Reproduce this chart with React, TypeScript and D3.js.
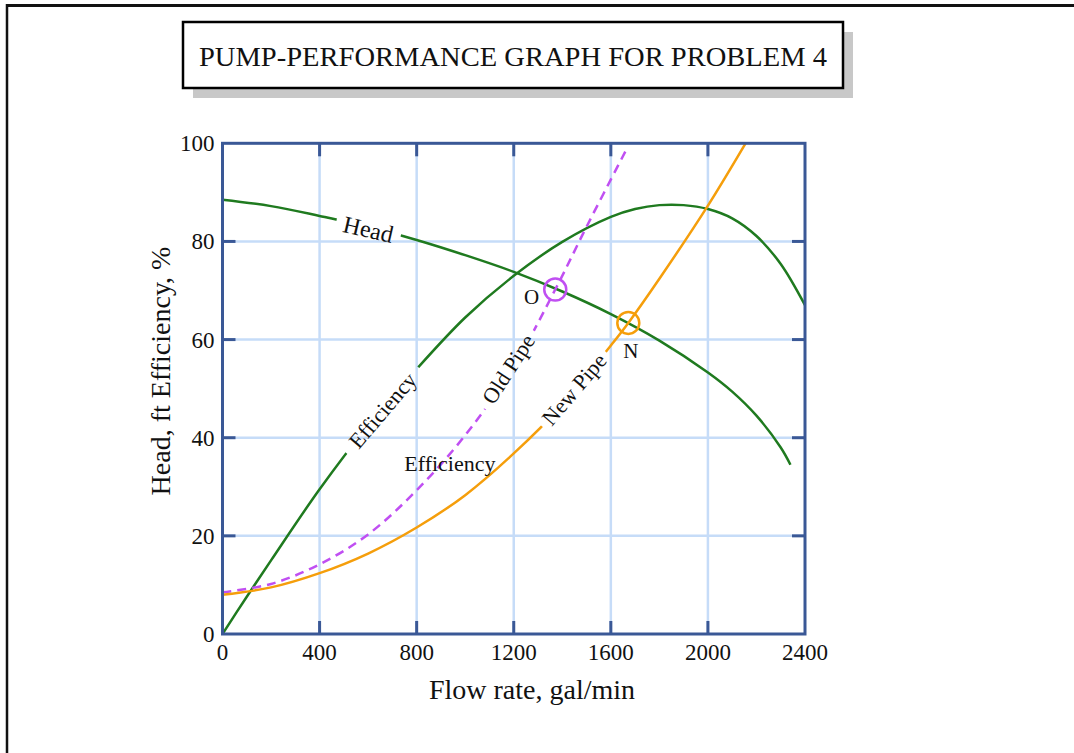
import React from 'react';
import * as d3 from 'd3';

// ---------- data ----------
const TITLE = 'PUMP-PERFORMANCE GRAPH FOR PROBLEM 4';
const X_LABEL = 'Flow rate, gal/min';
const Y_LABEL = 'Head, ft Efficiency, %';
const X_TICKS = [0, 400, 800, 1200, 1600, 2000, 2400];
const Y_TICKS = [0, 20, 40, 60, 80, 100];

const headFlow = [0, 200, 400, 600, 800, 1000, 1200, 1400, 1600, 1800, 2000, 2100, 2200, 2300, 2340];
const headValues = [88.5, 87.2, 85.2, 83.0, 80.3, 77.2, 73.8, 69.8, 65.2, 59.8, 53.3, 49.4, 44.5, 38.0, 34.5];

const effFlow = [0, 100, 200, 400, 600, 800, 1000, 1200, 1400, 1600, 1700, 1800, 1900, 2000, 2100, 2200, 2300, 2400];
const effValues = [0, 7.6, 15, 29.5, 42.5, 54.0, 64.5, 73.0, 79.9, 85.0, 86.6, 87.4, 87.4, 86.6, 84.7, 81.1, 75.4, 67.0];

const oldPipeFlow = [0, 200, 400, 600, 800, 1000, 1200, 1371, 1500, 1667];
const oldPipeValues = [8.5, 10.2, 14.2, 20.3, 29.3, 40.5, 54.6, 70.2, 83.0, 99.0];

const newPipeFlow = [0, 200, 400, 600, 800, 1000, 1200, 1400, 1600, 1672, 1800, 2000, 2160];
const newPipeValues = [8.0, 9.5, 12.4, 16.4, 21.7, 28.3, 36.8, 46.7, 58.8, 63.4, 72.4, 87.3, 100.4];

const operatingPoints = [
  { name: 'O', flow: 1371, value: 70.2, color: '#c04ff2' },
  { name: 'N', flow: 1672, value: 63.4, color: '#f59e0b' },
];

const pointLabels = [
  { text: 'O', flow: 1274, value: 68.8 },
  { text: 'N', flow: 1682, value: 57.8 },
];

const curveLabels = [
  { text: 'Head', flow: 601, value: 82.5, angle: 13, gap: 66, size: 24 },
  { text: 'Efficiency', flow: 659, value: 45.6, angle: -49.6, gap: 112, size: 22 },
  { text: 'Old Pipe', flow: 1177, value: 54.0, angle: -57, gap: 92, size: 22 },
  { text: 'New Pipe', flow: 1448, value: 49.9, angle: -49.5, gap: 98, size: 22 },
];

const looseLabel = { text: 'Efficiency', flow: 937, value: 33.3 };

// ---------- styles ----------
const FONT = '"Liberation Serif", "Times New Roman", Times, serif';
const GREEN = '#1f7a1f';
const PURPLE = '#c04ff2';
const ORANGE = '#f59e0b';
const AXIS = '#3a5896';
const GRID = '#c6dcf8';

const W = 1074;
const H = 753;
const plot = { left: 222.5, right: 805, top: 143.3, bottom: 634 };

export default function App() {
  const x = d3.scaleLinear().domain([0, 2400]).range([plot.left, plot.right]);
  const y = d3.scaleLinear().domain([0, 100]).range([plot.bottom, plot.top]);

  const line = d3
    .line<[number, number]>()
    .x((d) => x(d[0]))
    .y((d) => y(d[1]))
    .curve(d3.curveCatmullRom.alpha(0.5));

  const zip = (a: number[], b: number[]) => a.map((v, i) => [v, b[i]] as [number, number]);

  const headPath = line(zip(headFlow, headValues)) || '';
  const effPath = line(zip(effFlow, effValues)) || '';
  const oldPath = line(zip(oldPipeFlow, oldPipeValues)) || '';
  const newPath = line(zip(newPipeFlow, newPipeValues)) || '';

  const tickLen = 13;
  const innerX = X_TICKS.filter((t) => t > 0 && t < 2400);
  const innerY = Y_TICKS.filter((t) => t > 0 && t < 100);

  return (
    <svg
      width={W}
      height={H}
      style={{ position: 'absolute', left: 0, top: 0, background: '#fff' }}
      fontFamily={FONT}
    >
      <defs>
        <clipPath id="plotClip">
          <rect x={plot.left} y={plot.top} width={plot.right - plot.left} height={plot.bottom - plot.top} />
        </clipPath>
        <mask id="labelGaps" maskUnits="userSpaceOnUse" x={0} y={0} width={W} height={H}>
          <rect x={0} y={0} width={W} height={H} fill="#fff" />
          {curveLabels.map((l, i) => (
            <rect
              key={i}
              transform={`translate(${x(l.flow)},${y(l.value)}) rotate(${l.angle})`}
              x={-l.gap / 2}
              y={-13}
              width={l.gap}
              height={26}
              fill="#000"
            />
          ))}
        </mask>
      </defs>

      {/* page border (top and left) */}
      <line x1={7} y1={5.5} x2={W} y2={5.5} stroke="#111" strokeWidth={3} />
      <line x1={7} y1={4} x2={7} y2={H} stroke="#111" strokeWidth={2.5} />

      {/* title box */}
      <rect x={193} y={32} width={660} height={66} fill="#c8c8c8" />
      <rect x={183} y={22} width={660} height={66} fill="#fff" stroke="#000" strokeWidth={2.5} />
      <text x={513} y={66} textAnchor="middle" fontSize={27} textLength={628} lengthAdjust="spacingAndGlyphs" fill="#111">
        {TITLE}
      </text>

      {/* grid */}
      {innerX.map((t) => (
        <line key={'gx' + t} x1={x(t)} x2={x(t)} y1={plot.top} y2={plot.bottom} stroke={GRID} strokeWidth={2.5} />
      ))}
      {innerY.map((t) => (
        <line key={'gy' + t} y1={y(t)} y2={y(t)} x1={plot.left} x2={plot.right} stroke={GRID} strokeWidth={2.5} />
      ))}

      {/* curves */}
      <g clipPath="url(#plotClip)">
        <g mask="url(#labelGaps)" fill="none" strokeWidth={2.5}>
          <path d={headPath} stroke={GREEN} />
          <path d={effPath} stroke={GREEN} />
          <path d={oldPath} stroke={PURPLE} strokeDasharray="9,6" />
          <path d={newPath} stroke={ORANGE} />
        </g>
      </g>

      {/* operating points */}
      {operatingPoints.map((p) => (
        <circle key={p.name} cx={x(p.flow)} cy={y(p.value)} r={11} fill="none" stroke={p.color} strokeWidth={2.5} />
      ))}

      {/* frame & ticks */}
      <rect
        x={plot.left}
        y={plot.top}
        width={plot.right - plot.left}
        height={plot.bottom - plot.top}
        fill="none"
        stroke={AXIS}
        strokeWidth={3}
      />
      {innerX.map((t) => (
        <g key={'tx' + t} stroke={AXIS} strokeWidth={3}>
          <line x1={x(t)} x2={x(t)} y1={plot.top} y2={plot.top + tickLen} />
          <line x1={x(t)} x2={x(t)} y1={plot.bottom} y2={plot.bottom - tickLen} />
        </g>
      ))}
      {innerY.map((t) => (
        <g key={'ty' + t} stroke={AXIS} strokeWidth={3}>
          <line y1={y(t)} y2={y(t)} x1={plot.left} x2={plot.left + tickLen} />
          <line y1={y(t)} y2={y(t)} x1={plot.right} x2={plot.right - tickLen} />
        </g>
      ))}

      {/* tick labels */}
      {X_TICKS.map((t) => (
        <text key={'lx' + t} x={x(t)} y={plot.bottom + 26} textAnchor="middle" fontSize={23} fill="#111">
          {t}
        </text>
      ))}
      {Y_TICKS.map((t) => (
        <text key={'ly' + t} x={plot.left - 8} y={y(t)} dy="0.35em" textAnchor="end" fontSize={23} fill="#111">
          {t}
        </text>
      ))}

      {/* axis titles */}
      <text x={532} y={699} textAnchor="middle" fontSize={28} fill="#111">
        {X_LABEL}
      </text>
      <text transform="translate(170,371) rotate(-90)" textAnchor="middle" fontSize={28} fill="#111">
        {Y_LABEL}
      </text>

      {/* curve labels */}
      {curveLabels.map((l, i) => (
        <text
          key={'cl' + i}
          transform={`translate(${x(l.flow)},${y(l.value)}) rotate(${l.angle})`}
          textAnchor="middle"
          dy="0.35em"
          fontSize={l.size}
          fill="#111"
        >
          {l.text}
        </text>
      ))}
      <text x={x(looseLabel.flow)} y={y(looseLabel.value)} textAnchor="middle" fontSize={22} fill="#111">
        {looseLabel.text}
      </text>
      {pointLabels.map((p) => (
        <text key={'pl' + p.text} x={x(p.flow)} y={y(p.value)} dy="0.35em" textAnchor="middle" fontSize={21} fill="#111">
          {p.text}
        </text>
      ))}
    </svg>
  );
}
